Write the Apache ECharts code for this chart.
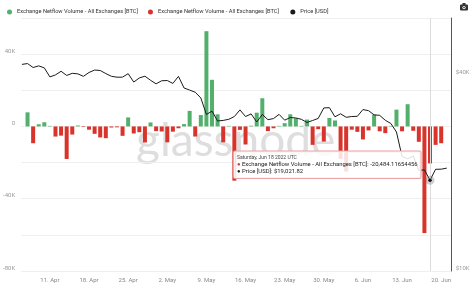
<!DOCTYPE html>
<html><head><meta charset="utf-8">
<script src="https://cdn.jsdelivr.net/npm/echarts@6/dist/echarts.min.js"></script>
<style>html,body{margin:0;padding:0;background:#fff}#c{width:474px;height:286px}</style>
</head><body><div id="c"></div>
<script>
// Daily dates: 6 Apr 2022 .. 21 Jun 2022 (77 days)
const startDay = Date.UTC(2022, 3, 6);
const dayMs = 86400000;
const dates = [];
for (let i = 0; i < 77; i++) dates.push(startDay + i * dayMs);

// Exchange netflow volume (BTC), same order as dates
const netflow = [
  null, 7800, -9300, 1200, 2300, 300, -5600, -5100, -18000, -4500, 500, -300,
  -1800, -4100, -6100, -6500, -600, -500, -5200, 5000, -3900, -3200, -8900, 2200, -2600,
  -2800, -8800, -2900, -1000, 1300, 8600, -5600, 6300, 52700, 25800, 6700, -8800, 300,
  -30000, -1900, -10000, 400, 7600, 15600, -2600, -1000, 300, 1800, 6700, 4500, 300,
  3800, -10200, -1500, -8400, 4700,
  3300, -18000, -25000, -1800, -3000, -7200, -2200, 6500, -2700, -3700, 300, 9300,
  -2700, 12300, -2400, -8500, -59000, -20484.11654456, -10200, -9300, null
];

// BTC price (USD)
const price = [
  43200, 43450, 42250, 42750, 42150, 39530, 40100, 41150, 39940, 40550, 40400, 39700,
  40800, 41500, 41370, 40480, 39710, 39450, 39470, 40450, 38120, 39240, 39740, 38600, 37650,
  38470, 38530, 37750, 39690, 36550, 36010, 35470, 34060, 30300, 31020, 28940, 29050, 29280,
  29860, 31300, 29860, 30420, 28720, 30310, 29200, 29430, 30320, 29100, 29650, 29560, 29270,
  28630, 29030, 29470, 31730, 31800,
  29800, 30450, 29700, 29860, 29910, 31370, 31130, 30210, 30110, 29080, 28420, 26760,
  22490, 22140, 22580, 20380, 20470, 19021.82, 20550, 20570, 20720
];

// x-axis tick labels (Mondays)
const xTicks = [
  Date.UTC(2022,3,11), Date.UTC(2022,3,18), Date.UTC(2022,3,25), Date.UTC(2022,4,2),
  Date.UTC(2022,4,9), Date.UTC(2022,4,16), Date.UTC(2022,4,23), Date.UTC(2022,4,30),
  Date.UTC(2022,5,6), Date.UTC(2022,5,13), Date.UTC(2022,5,20)
];
const leftTicks = [-80000, -40000, 0, 40000];
const rightTicks = [10000, 40000];
const hoverDate = Date.UTC(2022, 5, 18);
const hoverFlow = -20484.11654456;
const hoverPrice = 19021.82;

const months = ['Jan','Feb','Mar','Apr','May','Jun','Jul','Aug','Sep','Oct','Nov','Dec'];
const nameA = 'Exchange Netflow Volume - All Exchanges [BTC]';
const nameB = 'Exchange Netflow Volume - All Exchanges [BTC] ';
const nameP = 'Price [USD]';
const FONT = 'Roboto, sans-serif';

const greenData = dates.map((d, i) => [d, netflow[i] != null && netflow[i] >= 0 ? netflow[i] : null]);
const redData = dates.map((d, i) => [d, netflow[i] != null && netflow[i] < 0 ? netflow[i] : null]);
const priceData = dates.map((d, i) => [d, price[i]]);

const kfmt = v => (v === 0 ? '0' : (v / 1000) + 'K');

const chart = echarts.init(document.getElementById('c'), null, {renderer: 'canvas'});
chart.setOption({
  animation: false,
  textStyle: {fontFamily: FONT},
  legend: {
    left: 2, top: 4, itemWidth: 5, itemHeight: 5, itemGap: 10, icon: 'circle',
    textStyle: {fontSize: 5.7, color: '#333', fontFamily: FONT},
    data: [nameA, nameB, nameP]
  },
  grid: {left: 20, right: 22.3, top: 18, bottom: 15, containLabel: false},
  xAxis: {
    type: 'value',
    min: Date.UTC(2022,3,11) - 5.14 * dayMs,
    max: Date.UTC(2022,3,11) + 71.88 * dayMs,
    axisLine: {show: false},
    axisTick: {show: false},
    splitLine: {show: false},
    axisLabel: {
      customValues: xTicks,
      fontSize: 6, color: '#888', margin: 6, fontFamily: FONT, hideOverlap: false,
      formatter: v => { const d = new Date(v); return d.getUTCDate() + '. ' + months[d.getUTCMonth()]; }
    }
  },
  yAxis: [
    {
      type: 'value', min: -80000, max: 60000, interval: 20000, position: 'left',
      axisLine: {show: false}, axisTick: {show: false},
      splitLine: {lineStyle: {color: '#efefef', width: 1}},
      axisLabel: {
        fontSize: 6, color: '#999', margin: 6, fontFamily: FONT, verticalAlign: 'bottom',
        formatter: v => (leftTicks.indexOf(v) >= 0 ? kfmt(v) : '')
      }
    },
    {
      type: 'log', logBase: 10, min: 10000, max: 60000, position: 'right',
      axisLine: {show: true, lineStyle: {color: '#555', width: 1}},
      axisTick: {show: false}, axisLabel: {show: false}, splitLine: {show: false}
    },
    {
      type: 'value', min: 4, max: Math.log10(60000), position: 'right',
      axisLine: {show: false}, axisTick: {show: false}, splitLine: {show: false},
      axisLabel: {
        customValues: rightTicks.map(v => Math.log10(v)),
        fontSize: 6, color: '#999', margin: 4, fontFamily: FONT, verticalAlign: 'bottom',
        formatter: v => '$' + Math.round(Math.pow(10, v) / 1000) + 'K'
      }
    }
  ],
  series: [
    {
      name: nameA, type: 'bar', data: greenData, yAxisIndex: 0, barWidth: 4, barGap: '-100%',
      itemStyle: {color: '#53b06c'}, z: 2
    },
    {
      name: nameB, type: 'bar', data: redData, yAxisIndex: 0, barWidth: 4, barGap: '-100%',
      itemStyle: {color: '#d8342b'}, z: 2
    },
    {
      name: nameP, type: 'line', data: priceData, yAxisIndex: 1, showSymbol: false,
      itemStyle: {color: '#1a1a1a'},
      lineStyle: {color: '#1a1a1a', width: 1}, z: 4,
      markLine: {
        silent: true, symbol: 'none', label: {show: false},
        lineStyle: {color: '#dcdcdc', width: 1, type: 'solid'},
        data: [{xAxis: hoverDate}]
      },
      markPoint: {
        silent: true, label: {show: false},
        data: [
          {coord: [hoverDate, hoverPrice], symbol: 'circle', symbolSize: 9, itemStyle: {color: 'rgba(120,120,120,0.35)'}},
          {coord: [hoverDate, hoverPrice], symbol: 'circle', symbolSize: 3.5, itemStyle: {color: '#111'}}
        ]
      }
    }
  ],
  graphic: [
    {
      type: 'text', left: 136, top: 118, z: 0, silent: true,
      style: {text: 'glassnode', font: '46px Lato, sans-serif', fill: '#dedede'}
    },
    {
      type: 'group', right: 6, top: 3, silent: true,
      children: [
        {type: 'rect', shape: {x: 0, y: 1.5, width: 8, height: 6, r: 1}, style: {fill: '#333'}},
        {type: 'rect', shape: {x: 2.5, y: 0, width: 3, height: 2}, style: {fill: '#333'}},
        {type: 'circle', shape: {cx: 4, cy: 4.5, r: 1.6}, style: {fill: '#fff'}},
        {type: 'circle', shape: {cx: 4, cy: 4.5, r: 0.8}, style: {fill: '#333'}}
      ]
    },
    {
      type: 'text', x: 234, y: 151.5, z: 100, silent: true,
      style: {
        text: '{t|Saturday, Jun 18 2022 UTC}\n{r|●} ' + nameA + ': ' +
          hoverFlow.toLocaleString('en-US', {minimumFractionDigits: 8}) +
          '\n{k|●} ' + nameP + ': $' + hoverPrice.toLocaleString('en-US', {minimumFractionDigits: 2}),
        font: '5.9px Roboto, sans-serif', fill: '#222', lineHeight: 6.8,
        backgroundColor: 'rgba(255,255,255,0.85)', borderColor: '#e8a3a3', borderWidth: 1,
        borderRadius: 1, padding: [3, 3, 3, 3],
        rich: {
          t: {fontSize: 5, fill: '#444', lineHeight: 6.8, fontFamily: FONT},
          r: {fontSize: 5.9, fill: '#c93a3a', lineHeight: 6.8},
          k: {fontSize: 5.9, fill: '#1a1a1a', lineHeight: 6.8}
        }
      }
    }
  ]
});
</script></body></html>
